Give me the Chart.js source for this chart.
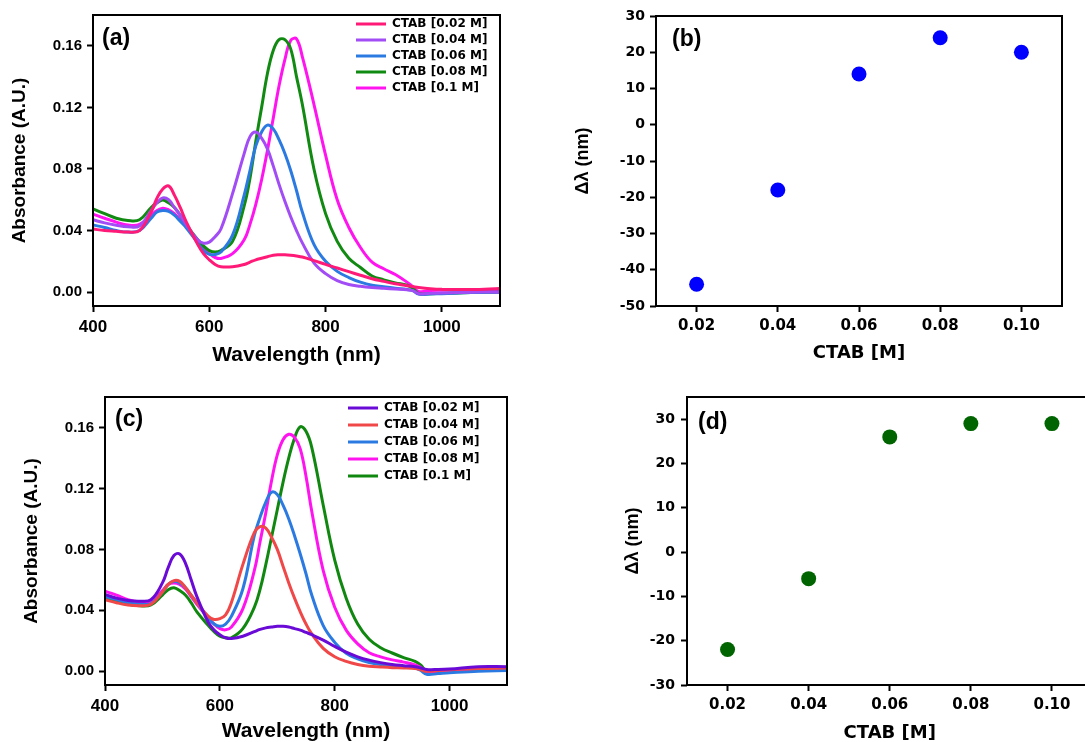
<!DOCTYPE html>
<html><head><meta charset="utf-8">
<script src="https://cdn.jsdelivr.net/npm/chart.js@4.4.1/dist/chart.umd.min.js"></script>
<style>
html,body{margin:0;padding:0;background:#fff;overflow:hidden;width:1085px;height:742px;}
.p{position:absolute;}
</style></head><body>
<div class="p" style="left:0;top:0"><canvas id="ca" width="530" height="375"></canvas></div>
<div class="p" style="left:560px;top:0"><canvas id="cb" width="525" height="375"></canvas></div>
<div class="p" style="left:0;top:380px"><canvas id="cc" width="530" height="362"></canvas></div>
<div class="p" style="left:570px;top:380px"><canvas id="cd" width="530" height="362"></canvas></div>
<script>
// ---------- data ----------
const wavelength = [400,420,440,460,480,500,510,520,530,540,550,560,580,590,600,610,620,640,660,670,680,690,700,710,720,730,740,750,760,780,800,820,840,860,880,900,920,940,950,960,980,1000,1050,1100];

const seriesLabels = ['CTAB [0.02 M]','CTAB [0.04 M]','CTAB [0.06 M]','CTAB [0.08 M]','CTAB [0.1 M]'];

// panel (a)
const absA_002 = [.041,.040,.0395,.039,.040,.052,.061,.067,.069,.063,.055,.046,.031,.025,.021,.018,.0165,.0165,.018,.0195,.021,.022,.023,.024,.0243,.0243,.024,.0235,.0228,.0205,.018,.0157,.0133,.011,.0087,.007,.0054,.0042,.0036,.003,.0022,.0018,.0017,.0024];
const absA_004 = [.047,.045,.0435,.0425,.043,.053,.058,.0612,.060,.055,.050,.044,.034,.0318,.0325,.036,.041,.064,.090,.101,.104,.100,.093,.082,.070,.059,.049,.040,.032,.019,.012,.0075,.005,.0038,.003,.0025,.002,.0015,.001,-.001,-.0008,-.0005,0,0];
const absA_006 = [.0436,.042,.040,.039,.040,.048,.052,.053,.0525,.050,.046,.042,.032,.027,.0245,.0245,.026,.037,.063,.079,.095,.104,.1085,.106,.099,.090,.079,.066,.052,.031,.020,.0135,.0095,.0065,.0045,.0035,.0025,.0017,.001,-.0013,-.0012,-.001,-.0003,0];
const absA_008 = [.054,.051,.048,.0465,.047,.055,.058,.0598,.058,.055,.050,.044,.034,.030,.027,.026,.027,.033,.056,.074,.098,.120,.142,.157,.164,.164,.158,.140,.122,.080,.051,.033,.022,.016,.0105,.008,.006,.0045,.0025,-.001,-.001,-.0008,-.0003,0];
const absA_010 = [.0507,.048,.0455,.0436,.044,.050,.053,.0545,.0535,.051,.047,.043,.033,.028,.025,.0225,.0219,.025,.034,.044,.057,.073,.092,.113,.134,.151,.1635,.1645,.153,.122,.089,.060,.042,.029,.0195,.0152,.0115,.0065,.0035,.0005,.001,.0012,.0015,.0017];

// panel (c)
const absC_002 = [.0505,.048,.0465,.046,.047,.058,.068,.076,.077,.071,.060,.049,.032,.027,.024,.022,.0215,.023,.026,.0275,.0285,.029,.0295,.0295,.029,.028,.027,.0255,.024,.0205,.0163,.0125,.0095,.0073,.0057,.0045,.0037,.003,.0022,.0012,.0012,.0015,.003,.003];
const absC_004 = [.047,.045,.0435,.043,.044,.052,.057,.0595,.059,.055,.050,.045,.036,.034,.0345,.037,.045,.070,.091,.095,.094,.088,.080,.069,.058,.048,.039,.031,.0245,.015,.0095,.0065,.0045,.0033,.0028,.0024,.0022,.0018,.001,0,.0005,.001,.0018,.0022];
const absC_006 = [.049,.047,.045,.044,.0445,.052,.057,.059,.058,.055,.050,.045,.035,.031,.0295,.031,.036,.054,.089,.101,.111,.1175,.116,.109,.100,.089,.077,.064,.050,.030,.019,.0118,.0082,.0058,.0044,.0036,.003,.0022,.0005,-.002,-.0015,-.001,0,.0005];
const absC_008 = [.0526,.050,.047,.0455,.046,.053,.057,.058,.057,.054,.049,.044,.035,.031,.028,.0272,.029,.041,.066,.085,.104,.125,.142,.152,.1555,.1535,.146,.128,.105,.066,.042,.027,.018,.0122,.0095,.0075,.006,.0042,.0025,-.0006,0,.0005,.001,.0011];
const absC_010 = [.048,.046,.044,.043,.0435,.050,.0535,.0548,.053,.050,.045,.039,.030,.026,.023,.022,.022,.028,.042,.0537,.070,.088,.106,.124,.140,.153,.1605,.1575,.147,.109,.073,.048,.031,.021,.0155,.012,.009,.0065,.004,0,.0003,.0007,.0012,.0015];

// panels (b), (d)
const ctabConc = [0.02,0.04,0.06,0.08,0.10];
const shiftB = [-44,-18,14,24,20];
const shiftD = [-22,-6,26,29,29];

// ticks
const wlTicks = [400,600,800,1000];
const wlTickLabels = ['400','600','800','1000'];
const absTicks = [0,0.04,0.08,0.12,0.16];
const absTickLabels = ['0.00','0.04','0.08','0.12','0.16'];
const ctabTicks = [0.02,0.04,0.06,0.08,0.10];
const ctabTickLabels = ['0.02','0.04','0.06','0.08','0.10'];
const shiftTicksB = [-50,-40,-30,-20,-10,0,10,20,30];
const shiftTicksD = [-30,-20,-10,0,10,20,30];

// ---------- helpers ----------
const ARIAL = '"Liberation Sans", Arial, sans-serif';
const DEJA = '"DejaVu Sans", sans-serif';
const xy = (xs, ys) => xs.map((x, i) => ({x: x, y: ys[i]}));

const framePlugin = {
  id: 'frame',
  afterLayout(chart, args, o) {
    const lg = chart.legend;
    if (lg && o.legendAt) {
      lg.left = o.legendAt.x - o.legendAt.pad;
      lg.top = o.legendAt.y - o.legendAt.pad - o.legendAt.fs / 2;
      lg.right = chart.width;
      lg.bottom = chart.height;
    }
  },
  afterDraw(chart, args, o) {
    const ctx = chart.ctx, a = chart.chartArea;
    ctx.save();
    ctx.strokeStyle = '#000';
    ctx.lineWidth = 2;
    ctx.strokeRect(a.left, a.top, a.right - a.left, a.bottom - a.top);
    ctx.font = 'bold 23px ' + ARIAL;
    ctx.fillStyle = '#000';
    ctx.textBaseline = 'middle';
    ctx.textAlign = 'left';
    ctx.fillText(o.label, a.left + o.dx, a.top + o.dy);
    ctx.restore();
  }
};

function axis(opt) {
  return {
    type: 'linear',
    min: opt.min, max: opt.max,
    afterBuildTicks: s => { s.ticks = opt.ticks.map(v => ({value: v})); },
    afterFit: s => { if (opt.width !== undefined) s.width = opt.width; if (opt.height !== undefined) s.height = opt.height; },
    grid: {display: true, drawOnChartArea: false, drawTicks: true, tickLength: 6, tickWidth: 2, tickColor: '#000'},
    border: {display: false},
    ticks: {
      color: '#000', padding: opt.pad, autoSkip: false, maxRotation: 0,
      font: {family: opt.tf, weight: 'bold', size: opt.ts},
      callback: (v, i) => opt.labels[i]
    },
    title: {
      display: true, text: opt.title, color: '#000',
      font: {family: opt.titleFont, weight: 'bold', size: opt.titleSize, lineHeight: 1},
      padding: opt.titlePad
    }
  };
}

function spectrumChart(id, series, colors, cfg) {
  const datasets = series.map((s, i) => ({
    label: seriesLabels[i],
    data: xy(wavelength, s),
    borderColor: colors[i],
    backgroundColor: colors[i],
    borderWidth: 3,
    pointRadius: 0,
    fill: false,
    tension: 0.4
  }));
  return new Chart(document.getElementById(id), {
    type: 'line',
    data: {datasets},
    plugins: [framePlugin],
    options: {
      responsive: false, animation: false, devicePixelRatio: 1,
      layout: {padding: cfg.padding},
      scales: {
        x: axis({min: 400, max: 1100, ticks: wlTicks, labels: wlTickLabels, height: cfg.xh, pad: 5,
                 tf: ARIAL, ts: 17, title: 'Wavelength (nm)', titleFont: ARIAL, titleSize: 21,
                 titlePad: {top: 0, bottom: cfg.xtp}}),
        y: axis({min: -0.009, max: 0.18, ticks: absTicks, labels: absTickLabels, width: cfg.yw, pad: 5,
                 tf: ARIAL, ts: 15, title: 'Absorbance (A.U.)', titleFont: ARIAL, titleSize: 19,
                 titlePad: {top: cfg.ytp, bottom: 0}})
      },
      plugins: {
        tooltip: {enabled: false},
        legend: {
          display: true, position: 'chartArea', align: 'start',
          labels: {usePointStyle: true, pointStyle: 'line', pointStyleWidth: 30, padding: cfg.lpad,
                   color: '#000', font: {family: DEJA, weight: 'bold', size: 12}}
        },
        frame: {label: cfg.label, dx: cfg.dx, dy: cfg.dy,
                legendAt: {x: cfg.legX, y: cfg.legY, pad: cfg.lpad, fs: 12}}
      }
    }
  });
}

function shiftChart(id, values, color, cfg) {
  return new Chart(document.getElementById(id), {
    type: 'scatter',
    data: {datasets: [{data: xy(ctabConc, values), backgroundColor: color, borderWidth: 0, pointRadius: 7.5}]},
    plugins: [framePlugin],
    options: {
      responsive: false, animation: false, devicePixelRatio: 1,
      layout: {padding: cfg.padding},
      scales: {
        x: axis({min: 0.01, max: 0.11, ticks: ctabTicks, labels: ctabTickLabels, height: cfg.xh, pad: 5,
                 tf: DEJA, ts: 15, title: 'CTAB [M]', titleFont: DEJA, titleSize: 18,
                 titlePad: {top: 0, bottom: cfg.xtp}}),
        y: axis({min: cfg.ymin, max: cfg.ymax, ticks: cfg.yticks, labels: cfg.yticks.map(String), width: cfg.yw, pad: cfg.ypad,
                 tf: DEJA, ts: 14, title: 'Δλ (nm)', titleFont: ARIAL, titleSize: 18,
                 titlePad: {top: cfg.ytp, bottom: 0}})
      },
      plugins: {
        tooltip: {enabled: false},
        legend: {display: false},
        frame: {label: cfg.label, dx: cfg.dx, dy: cfg.dy}
      }
    }
  });
}

spectrumChart('ca', [absA_002, absA_004, absA_006, absA_008, absA_010],
  ['#ff1a78', '#a24cf5', '#2a7ae2', '#118a11', '#ff14f0'],
  {padding: {left: 0, top: 15, right: 30, bottom: 0}, yw: 93, xh: 69, xtp: 9.5, ytp: 10.5,
   label: '(a)', dx: 9, dy: 24, legX: 356, legY: 24, lpad: 4});

shiftChart('cb', shiftB, '#0000ff',
  {padding: {left: 0, top: 16, right: 23, bottom: 0}, yw: 96, xh: 69, xtp: 13, ytp: 14,
   ymin: -50, ymax: 30, yticks: shiftTicksB, ypad: 5, label: '(b)', dx: 16, dy: 24});

spectrumChart('cc', [absC_002, absC_004, absC_006, absC_008, absC_010],
  ['#6a0ad6', '#f04848', '#2a7ae2', '#ff14f0', '#108810'],
  {padding: {left: 0, top: 17, right: 23, bottom: 0}, yw: 105, xh: 57, xtp: 0, ytp: 22.5,
   label: '(c)', dx: 10, dy: 23, legX: 348, legY: 28, lpad: 5});

shiftChart('cd', shiftD, '#006400',
  {padding: {left: 0, top: 17, right: 6, bottom: 0}, yw: 117, xh: 57, xtp: 0, ytp: 54,
   ymin: -30, ymax: 35, yticks: shiftTicksD, ypad: 6, label: '(d)', dx: 11, dy: 26});
</script>
</body></html>
